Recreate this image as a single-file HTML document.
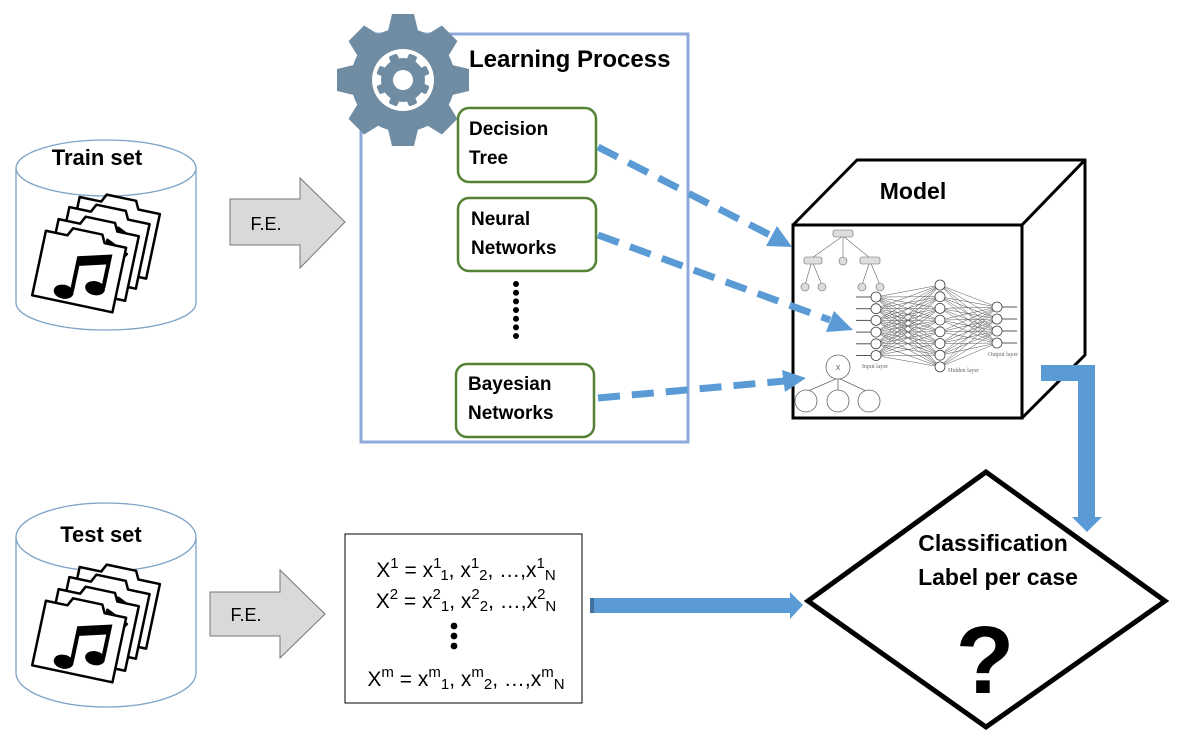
<!DOCTYPE html>
<html><head><meta charset="utf-8"><style>
html,body{margin:0;padding:0;background:#fff;}
svg{display:block;font-family:"Liberation Sans","DejaVu Sans",sans-serif;}
.b{font-weight:bold;}
</style></head><body>
<svg id="s" width="1184" height="736" viewBox="0 0 1184 736" xmlns="http://www.w3.org/2000/svg">
<defs>
<g id="folders">
  <g stroke="#000" stroke-width="2.5" fill="#fff" stroke-linejoin="round">
    <g transform="rotate(12 0 0)">
      <path d="M40 -58 l4 -8 h30 l4 8 h22 v66 h-82 v-66 z"/>
    </g>
    <g transform="rotate(12 0 0) translate(-8 12)">
      <path d="M40 -58 l4 -8 h30 l4 8 h22 v66 h-82 v-66 z"/>
      <path d="M70 -48 l22 10 l-4 6 l-18 -8 z" fill="#000"/>
    </g>
    <g transform="rotate(12 0 0) translate(-16 26)">
      <path d="M40 -58 l4 -8 h30 l4 8 h22 v66 h-82 v-66 z"/>
      <path d="M70 -48 l22 10 l-4 6 l-18 -8 z" fill="#000"/>
    </g>
    <g transform="rotate(12 0 0) translate(-26 40)">
      <path d="M40 -58 l4 -8 h30 l4 8 h22 v66 h-82 v-66 z"/>
    </g>
  </g>
  <g transform="rotate(12 0 0)">
    <path d="M30 36 v-34 l30 -8 v32" stroke="#000" stroke-width="4" fill="none"/>
    <path d="M30 2 l30 -8 v8 l-30 8 z" fill="#000"/>
    <ellipse cx="22" cy="38" rx="10" ry="7" fill="#000"/>
    <ellipse cx="52" cy="28" rx="10" ry="7" fill="#000"/>
  </g>
</g>
</defs>

<!-- Train cylinder -->
<path d="M16 168 v135 a90 27 0 0 0 180 0 v-135" fill="#fff" stroke="#7ea2c8" stroke-width="1.3"/>
<ellipse cx="106" cy="168" rx="90" ry="28" fill="#fff" stroke="#7ea2c8" stroke-width="1.3"/>
<text x="97" y="165" text-anchor="middle" class="b" font-size="22">Train set</text>
<use href="#folders" transform="translate(50 250)"/>

<!-- Test cylinder -->
<path d="M16 537 v136 a90 34 0 0 0 180 0 v-136" fill="#fff" stroke="#7ea2c8" stroke-width="1.3"/>
<ellipse cx="106" cy="537" rx="90" ry="34" fill="#fff" stroke="#7ea2c8" stroke-width="1.3"/>
<text x="101" y="542" text-anchor="middle" class="b" font-size="22">Test set</text>
<use href="#folders" transform="translate(50 620)"/>

<!-- F.E. arrows -->
<path d="M230 199 h70 v-21 l45 44 l-45 46 v-23 h-70 z" fill="#d9d9d9" stroke="#777" stroke-width="1"/>
<text x="266" y="230" text-anchor="middle" font-size="18">F.E.</text>
<path d="M210 592 h70 v-22 l45 44 l-45 44 v-22 h-70 z" fill="#d9d9d9" stroke="#777" stroke-width="1"/>
<text x="246" y="621" text-anchor="middle" font-size="18">F.E.</text>

<!-- Learning process box -->
<rect x="361" y="34" width="327" height="408" fill="#fff" stroke="#8eaadb" stroke-width="3"/>
<g id="gear" fill="#6f8ca3"></g>
<text x="469" y="67" class="b" font-size="24">Learning Process</text>

<g fill="#fff" stroke="#548235" stroke-width="2.5">
<rect x="458" y="108" width="138" height="74" rx="11"/>
<rect x="458" y="198" width="138" height="73" rx="11"/>
<rect x="456" y="364" width="138" height="73" rx="11"/>
</g>
<g class="b" font-size="19">
<text x="469" y="135">Decision</text><text x="469" y="164">Tree</text>
<text x="471" y="225">Neural</text><text x="471" y="254">Networks</text>
<text x="468" y="390">Bayesian</text><text x="468" y="419">Networks</text>
</g>
<g fill="#000">
<circle cx="516" cy="284" r="3"/><circle cx="516" cy="292.7" r="3"/><circle cx="516" cy="301.4" r="3"/><circle cx="516" cy="310" r="3"/><circle cx="516" cy="318.7" r="3"/><circle cx="516" cy="327.4" r="3"/><circle cx="516" cy="336" r="3"/>
</g>

<!-- Cube -->
<path d="M793 225 L857 160 H1085 L1022 225 Z" fill="#fff" stroke="#000" stroke-width="3" stroke-linejoin="round"/>
<path d="M1022 225 L1085 160 V355 L1022 418 Z" fill="#fff" stroke="#000" stroke-width="3" stroke-linejoin="round"/>
<rect x="793" y="225" width="229" height="193" fill="#fff" stroke="#000" stroke-width="3"/>
<text x="913" y="199" class="b" font-size="23" text-anchor="middle">Model</text>
<g id="nn" stroke="#555" stroke-width="0.5" fill="none"></g>
<g font-family="Liberation Serif,serif" font-size="6" fill="#666">
<text x="862" y="368">Input layer</text><text x="948" y="372">Hidden layer</text><text x="988" y="356">Output layer</text>
</g>
<g stroke="#666" stroke-width="0.6" fill="#ddd">
<line x1="843" y1="236" x2="812" y2="258"/><line x1="843" y1="236" x2="843" y2="258"/><line x1="843" y1="236" x2="870" y2="258"/>
<line x1="812" y1="261" x2="805" y2="285"/><line x1="812" y1="261" x2="822" y2="285"/>
<line x1="870" y1="261" x2="862" y2="285"/><line x1="870" y1="261" x2="880" y2="285"/>
<rect x="833" y="230" width="20" height="7" rx="2"/>
<rect x="804" y="257" width="18" height="7" rx="2"/><circle cx="843" cy="261" r="4"/><rect x="860" y="257" width="20" height="7" rx="2"/>
<circle cx="805" cy="287" r="4"/><circle cx="822" cy="287" r="4"/><circle cx="862" cy="287" r="4"/><circle cx="880" cy="287" r="4"/>
</g>
<g stroke="#666" stroke-width="0.8" fill="#fff">
<line x1="838" y1="378" x2="808" y2="391"/><line x1="838" y1="379" x2="838" y2="390"/><line x1="838" y1="378" x2="866" y2="391"/>
<circle cx="838" cy="367" r="12"/>
<circle cx="806" cy="401" r="11"/><circle cx="838" cy="401" r="11"/><circle cx="869" cy="401" r="11"/>
</g>
<text x="838" y="370" font-size="7" text-anchor="middle" fill="#555">X</text>

<!-- dashed arrows -->
<g stroke="#5b9bd5" stroke-width="7" stroke-dasharray="22 12" fill="none">
<line x1="598" y1="147" x2="770" y2="235"/>
<line x1="598" y1="235" x2="830" y2="320"/>
<line x1="598" y1="398" x2="785" y2="381"/>
</g>
<g fill="#5b9bd5">
<polygon points="792,247 766,246 777,226"/>
<polygon points="853,330 826,332 834,311"/>
<polygon points="806,378 785,392 782,370"/>
</g>

<!-- elbow arrow -->
<path d="M1041 365 H1095 V517 H1102 L1087 532 L1072 517 H1078 V381 H1041 Z" fill="#5b9bd5"/>

<!-- features box -->
<rect x="345" y="534" width="237" height="169" fill="#fff" stroke="#000" stroke-width="1"/>
<g font-size="21" text-anchor="middle">
<text x="466" y="577">X<tspan dy="-9" font-size="15">1</tspan><tspan dy="9"> = x</tspan><tspan dy="-9" font-size="15">1</tspan><tspan dy="12" font-size="15">1</tspan><tspan dy="-3">, x</tspan><tspan dy="-9" font-size="15">1</tspan><tspan dy="12" font-size="15">2</tspan><tspan dy="-3">, …,x</tspan><tspan dy="-9" font-size="15">1</tspan><tspan dy="12" font-size="15">N</tspan></text>
<text x="466" y="608">X<tspan dy="-9" font-size="15">2</tspan><tspan dy="9"> = x</tspan><tspan dy="-9" font-size="15">2</tspan><tspan dy="12" font-size="15">1</tspan><tspan dy="-3">, x</tspan><tspan dy="-9" font-size="15">2</tspan><tspan dy="12" font-size="15">2</tspan><tspan dy="-3">, …,x</tspan><tspan dy="-9" font-size="15">2</tspan><tspan dy="12" font-size="15">N</tspan></text>
<text x="466" y="686">X<tspan dy="-9" font-size="15">m</tspan><tspan dy="9"> = x</tspan><tspan dy="-9" font-size="15">m</tspan><tspan dy="12" font-size="15">1</tspan><tspan dy="-3">, x</tspan><tspan dy="-9" font-size="15">m</tspan><tspan dy="12" font-size="15">2</tspan><tspan dy="-3">, …,x</tspan><tspan dy="-9" font-size="15">m</tspan><tspan dy="12" font-size="15">N</tspan></text>
</g>
<circle cx="454" cy="626" r="3.4"/><circle cx="454" cy="636" r="3.4"/><circle cx="454" cy="646" r="3.4"/>

<!-- solid arrow -->
<path d="M590 598 H790 V592 L803 605 L790 619 V613 H590 Z" fill="#5b9bd5"/>
<rect x="590" y="598" width="4" height="15" fill="#41719c"/>

<!-- diamond -->
<polygon points="986,472 1165,601 986,727 808,601" fill="#fff" stroke="#000" stroke-width="5"/>
<polygon points="986,476 1159,601 986,723 814,601" fill="none" stroke="#fff" stroke-width="1.2"/>
<text x="993" y="551" class="b" font-size="23" text-anchor="middle">Classification</text>
<text x="998" y="585" class="b" font-size="23" text-anchor="middle">Label per case</text>
<text x="985" y="693" class="b" font-size="96" text-anchor="middle">?</text>
</svg>
<script>
var NS="http://www.w3.org/2000/svg";
function el(p,t,a){var e=document.createElementNS(NS,t);for(var k in a)e.setAttribute(k,a[k]);p.appendChild(e);return e;}
var g=document.getElementById('gear'),cx=403,cy=80;
el(g,'circle',{cx:cx,cy:cy,r:52});
for(var i=0;i<8;i++){var a=i*45;el(g,'path',{d:'M'+(cx-16)+' '+(cy-45)+' L'+(cx-11)+' '+(cy-66)+' H'+(cx+11)+' L'+(cx+16)+' '+(cy-45)+' Z',transform:'rotate('+a+' '+cx+' '+cy+')'});}
el(g,'circle',{cx:cx,cy:cy,r:31,fill:'#fff'});
el(g,'circle',{cx:cx,cy:cy,r:22,fill:'#6f8ca3'});
for(var i=0;i<8;i++){el(g,'rect',{x:cx-4.5,y:cy-27,width:9,height:9,rx:2,fill:'#6f8ca3',transform:'rotate('+(i*45+22.5)+' '+cx+' '+cy+')'});}
el(g,'circle',{cx:cx,cy:cy,r:10,fill:'#fff'});
var n=document.getElementById('nn');
var I=[],H=[],O=[];
for(var i=0;i<6;i++)I.push([876,297+i*11.7]);
for(var i=0;i<8;i++)H.push([940,285+i*11.7]);
for(var i=0;i<4;i++)O.push([997,307+i*12]);
I.forEach(function(p){H.forEach(function(q){el(n,'line',{x1:p[0],y1:p[1],x2:q[0],y2:q[1]});});el(n,'line',{x1:p[0]-20,y1:p[1],x2:p[0]-4,y2:p[1],'stroke-width':1});});
H.forEach(function(p){O.forEach(function(q){el(n,'line',{x1:p[0],y1:p[1],x2:q[0],y2:q[1]});});});
O.forEach(function(p){el(n,'line',{x1:p[0],y1:p[1],x2:p[0]+20,y2:p[1],'stroke-width':1});});
I.concat(H,O).forEach(function(p){el(n,'circle',{cx:p[0],cy:p[1],r:5,fill:'#fff',stroke:'#444','stroke-width':0.8});});
</script>
</body></html>
